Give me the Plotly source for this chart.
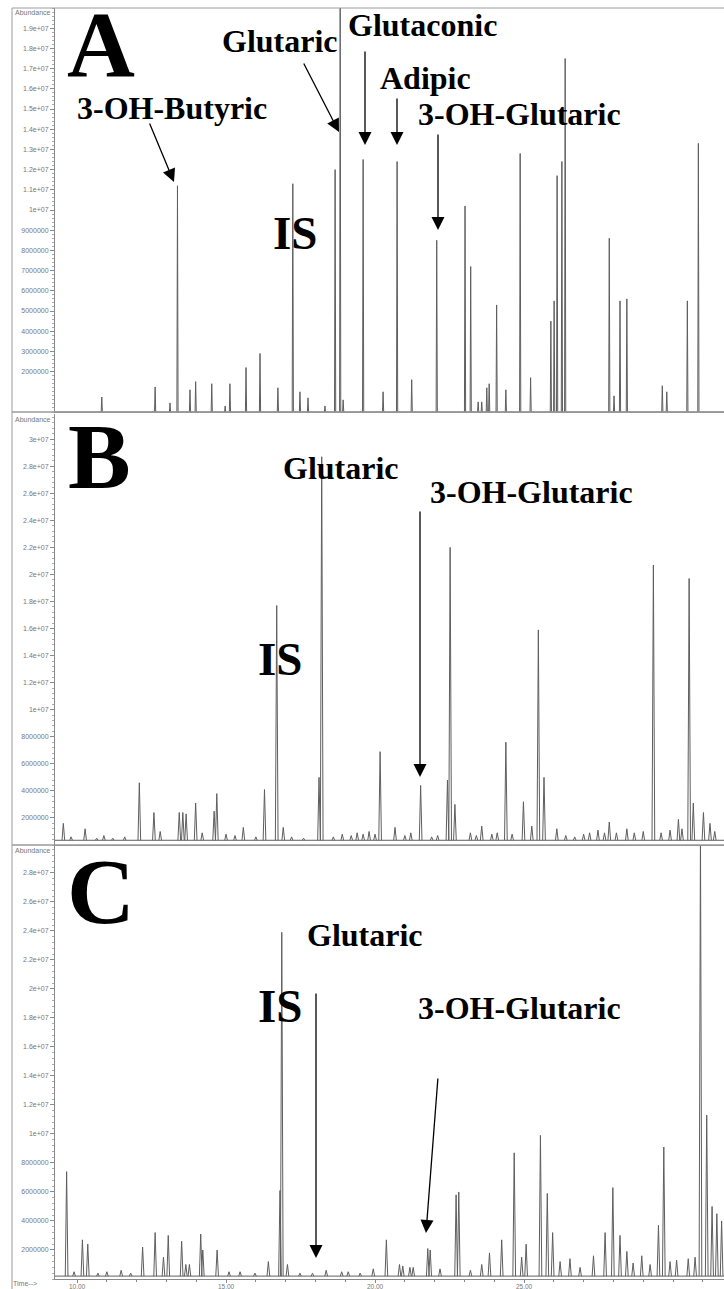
import plotly.graph_objects as go

# ---------------- data ----------------
time_tick_vals = [10, 15, 20, 25]
time_tick_text = ["10.00", "15.00", "20.00", "25.00"]

a_tick_vals = [2e6, 3e6, 4e6, 5e6, 6e6, 7e6, 8e6, 9e6, 1e7, 1.1e7, 1.2e7, 1.3e7,
               1.4e7, 1.5e7, 1.6e7, 1.7e7, 1.8e7, 1.9e7]
a_tick_text = ["2000000", "3000000", "4000000", "5000000", "6000000", "7000000",
               "8000000", "9000000", "1e+07", "1.1e+07", "1.2e+07", "1.3e+07",
               "1.4e+07", "1.5e+07", "1.6e+07", "1.7e+07", "1.8e+07", "1.9e+07"]
b_tick_vals = [2e6, 4e6, 6e6, 8e6, 1e7, 1.2e7, 1.4e7, 1.6e7, 1.8e7, 2e7, 2.2e7,
               2.4e7, 2.6e7, 2.8e7, 3e7]
b_tick_text = ["2000000", "4000000", "6000000", "8000000", "1e+07", "1.2e+07",
               "1.4e+07", "1.6e+07", "1.8e+07", "2e+07", "2.2e+07", "2.4e+07",
               "2.6e+07", "2.8e+07", "3e+07"]
c_tick_vals = [2e6, 4e6, 6e6, 8e6, 1e7, 1.2e7, 1.4e7, 1.6e7, 1.8e7, 2e7, 2.2e7,
               2.4e7, 2.6e7, 2.8e7]
c_tick_text = ["2000000", "4000000", "6000000", "8000000", "1e+07", "1.2e+07",
               "1.4e+07", "1.6e+07", "1.8e+07", "2e+07", "2.2e+07", "2.4e+07",
               "2.6e+07", "2.8e+07"]

# Panel A peaks: retention time (min) and abundance
a_rt = [10.83, 12.62, 13.12, 13.37, 13.79, 13.98, 14.52, 14.97, 15.13, 15.67,
        16.14, 16.74, 17.24, 17.48, 17.75, 18.32, 18.66, 18.83, 18.93, 19.60,
        20.27, 20.74, 21.23, 22.07, 23.02, 23.21, 23.46, 23.58, 23.75, 23.83,
        24.08, 24.39, 24.87, 25.22, 25.90, 26.01, 26.11, 26.27, 26.38, 27.86,
        28.02, 28.22, 28.45, 29.64, 29.79, 30.48, 30.85]
a_ab = [0.74e6, 1.24e6, 0.45e6, 1.12e7, 1.1e6, 1.5e6, 1.4e6, 0.3e6, 1.4e6, 2.2e6,
        2.9e6, 1.2e6, 1.13e7, 1.0e6, 0.7e6, 0.3e6, 1.2e7, 2.05e7, 0.6e6, 1.25e7,
        1.0e6, 1.24e7, 1.6e6, 8.5e6, 1.02e7, 7.2e6, 0.5e6, 0.5e6, 1.2e6, 1.4e6,
        5.3e6, 1.1e6, 1.28e7, 1.7e6, 4.5e6, 5.5e6, 1.17e7, 1.24e7, 1.75e7, 8.6e6,
        0.8e6, 5.5e6, 5.6e6, 1.3e6, 1.0e6, 5.5e6, 1.33e7]

# Panel B peaks
b_rt = [9.54, 9.8, 10.27, 10.66, 10.9, 11.2, 11.6, 12.09, 12.58, 12.79,
        13.43, 13.55, 13.66, 13.98, 14.2, 14.60, 14.69, 15.0, 15.3, 15.58,
        16.0, 16.29, 16.70, 16.92, 17.2, 17.6, 18.12, 18.21, 18.6, 18.9,
        19.2, 19.4, 19.6, 19.8, 20.0, 20.17, 20.67, 21.0, 21.2, 21.53,
        21.90, 22.1, 22.43, 22.52, 22.68, 23.2, 23.4, 23.58, 23.92, 24.1,
        24.39, 24.6, 24.98, 25.26, 25.48, 25.67, 26.10, 26.4, 26.7, 27.0,
        27.2, 27.48, 27.7, 27.86, 28.1, 28.45, 28.7, 29.0, 29.34, 29.6,
        29.9, 30.18, 30.3, 30.54, 30.68, 31.02, 31.24, 31.4]
b_ab = [1.6e6, 0.6e6, 1.2e6, 0.5e6, 0.7e6, 0.5e6, 0.6e6, 4.6e6, 2.4e6, 1.0e6,
        2.4e6, 2.4e6, 2.3e6, 3.1e6, 0.9e6, 2.5e6, 3.8e6, 0.8e6, 0.7e6, 1.3e6,
        0.6e6, 4.1e6, 1.77e7, 1.3e6, 0.6e6, 0.5e6, 5.0e6, 2.87e7, 0.6e6, 0.8e6,
        0.7e6, 0.9e6, 0.8e6, 1.0e6, 0.8e6, 6.9e6, 1.3e6, 0.7e6, 0.9e6, 4.4e6,
        0.6e6, 0.7e6, 4.8e6, 2.2e7, 3.0e6, 0.9e6, 0.7e6, 1.4e6, 0.8e6, 0.9e6,
        7.6e6, 0.8e6, 3.2e6, 1.4e6, 1.59e7, 5.0e6, 1.2e6, 0.7e6, 0.6e6, 0.8e6,
        0.9e6, 1.1e6, 0.9e6, 1.7e6, 0.9e6, 1.2e6, 0.9e6, 1.0e6, 2.07e7, 0.9e6,
        1.1e6, 1.9e6, 1.2e6, 1.97e7, 3.1e6, 2.4e6, 1.6e6, 1.0e6]

# Panel C peaks
c_rt = [9.65, 9.9, 10.18, 10.36, 10.70, 11.0, 11.48, 11.8, 12.20, 12.62,
        12.90, 13.06, 13.51, 13.65, 13.77, 14.15, 14.22, 14.70, 15.1, 15.47,
        15.97, 16.42, 16.81, 16.87, 17.06, 17.48, 17.9, 18.36, 18.88, 19.10,
        19.50, 19.94, 20.38, 20.82, 20.93, 21.17, 21.28, 21.77, 21.85, 22.18,
        22.72, 22.81, 23.2, 23.58, 23.84, 24.25, 24.67, 24.92, 25.07, 25.55,
        25.78, 25.96, 26.21, 26.54, 26.88, 27.33, 27.72, 27.98, 28.22, 28.45,
        28.66, 28.95, 29.23, 29.51, 29.69, 29.90, 30.12, 30.51, 30.74, 30.92,
        31.13, 31.31, 31.47, 31.63]
c_ab = [7.4e6, 0.5e6, 2.7e6, 2.4e6, 0.4e6, 0.5e6, 0.6e6, 0.4e6, 2.2e6, 3.2e6,
        1.5e6, 3.0e6, 2.6e6, 1.0e6, 1.0e6, 3.1e6, 2.0e6, 2.0e6, 0.5e6, 0.5e6,
        0.4e6, 1.2e6, 6.1e6, 2.39e7, 1.0e6, 0.4e6, 0.4e6, 0.6e6, 0.5e6, 0.5e6,
        0.4e6, 0.7e6, 2.7e6, 1.0e6, 0.9e6, 0.8e6, 0.8e6, 2.1e6, 2.0e6, 0.7e6,
        5.8e6, 6.0e6, 0.6e6, 1.0e6, 1.8e6, 2.7e6, 8.7e6, 1.5e6, 2.4e6, 9.9e6,
        5.9e6, 3.2e6, 1.2e6, 1.4e6, 0.8e6, 1.6e6, 3.2e6, 6.3e6, 3.0e6, 1.9e6,
        1.1e6, 1.6e6, 1.0e6, 3.7e6, 9.1e6, 1.2e6, 1.3e6, 1.4e6, 1.5e6, 3.1e7,
        1.13e7, 5.0e6, 4.5e6, 4.0e6]

# labels
panel_letters = ["A", "B", "C"]
a_labels = ["3-OH-Butyric", "Glutaric", "Glutaconic", "Adipic", "3-OH-Glutaric", "IS"]
b_labels = ["Glutaric", "3-OH-Glutaric", "IS"]
c_labels = ["Glutaric", "IS", "3-OH-Glutaric"]

assert len(a_rt) == len(a_ab) and len(b_rt) == len(b_ab) and len(c_rt) == len(c_ab)

# ---------------- layout helpers ----------------
W, H = 724, 1289


def px(x):
    return x / W


def py(y):
    return 1 - y / H


X_RANGE = [9.26, 31.71]
LINE = "#5e5e5e"
GREY = "#8a8a8a"
SERIF = "Liberation Serif"
SANS = "Liberation Sans"

panels = [
    # rt, ab, base, half width, top px, bottom px, ymax, ticks, ticktext, minor
    (a_rt, a_ab, 0.0, 0.02, 8, 412, 2.0e7, a_tick_vals, a_tick_text, 2e5),
    (b_rt, b_ab, 0.35e6, 0.045, 414, 845, 3.186e7, b_tick_vals, b_tick_text, 4e5),
    (c_rt, c_ab, 0.2e6, 0.045, 846, 1279, 2.985e7, c_tick_vals, c_tick_text, 4e5),
]

fig = go.Figure()
layout = dict(
    width=W, height=H, margin=dict(l=0, r=0, t=0, b=0, autoexpand=False),
    paper_bgcolor="white", plot_bgcolor="white", showlegend=False,
)

for i, (rt, ab, base, hw, top, bot, ymax, tv, tt, minor_dt) in enumerate(panels):
    n = "" if i == 0 else str(i + 1)
    xs, ys = [X_RANGE[0], X_RANGE[1], None], [base, base, None]
    for t, h in zip(rt, ab):
        xs += [t - hw, t, t + hw, None]
        ys += [base, h, base, None]
    fig.add_trace(go.Scatter(x=xs, y=ys, mode="lines", connectgaps=False,
                             line=dict(color=LINE, width=1),
                             xaxis="x" + n, yaxis="y" + n, hoverinfo="skip"))
    xa = dict(domain=[px(55), 1], range=X_RANGE, anchor="y" + n, automargin=False,
              showgrid=False, zeroline=False, showline=True,
              linecolor=GREY, linewidth=1)
    if i == 2:
        xa.update(tickmode="array", tickvals=time_tick_vals, ticktext=time_tick_text,
                  ticks="outside", ticklen=3, tickcolor=GREY,
                  ticklabelstandoff=-2,
                  tickfont=dict(family=SANS, size=6.5, color="#777"),
                  minor=dict(tickmode="linear", tick0=10, dtick=1, ticks="outside",
                             ticklen=2, tickcolor=GREY))
    else:
        xa.update(showticklabels=False, ticks="")
    ya = dict(domain=[py(bot), py(top)], range=[0, ymax], anchor="x" + n,
              automargin=False,
              showgrid=False, zeroline=False, showline=True,
              linecolor=GREY, linewidth=1,
              tickmode="array", tickvals=tv, ticktext=tt,
              ticks="outside", ticklen=4, tickcolor=GREY,
              tickfont=dict(family=SANS, size=7, color="#777"),
              minor=dict(tickmode="linear", tick0=0, dtick=minor_dt,
                         ticks="outside", ticklen=2, tickcolor="#aaa"))
    layout["xaxis" + n] = xa
    layout["yaxis" + n] = ya

fig.update_layout(**layout)

# frames around each panel (including the label column)
frames = [(8, 412), (412, 845), (845, 1295)]
for (t, b) in frames:
    fig.add_shape(type="rect", xref="paper", yref="paper",
                  x0=px(12), x1=px(730), y0=py(b), y1=py(t),
                  line=dict(color="#9a9a9a", width=1))

annots = []


def text(s, x, y, size, bold=True, family=SERIF, color="black"):
    annots.append(dict(text=s, x=px(x), y=py(y), xref="paper", yref="paper",
                       xanchor="center", yanchor="middle", showarrow=False,
                       font=dict(family=family, size=size, color=color,
                                 weight="bold" if bold else "normal")))


def arrow(xt, yt, xs, ys):
    annots.append(dict(text="", x=px(xt), y=py(yt), xref="paper", yref="paper",
                       ax=xs - xt, ay=ys - yt, axref="pixel", ayref="pixel",
                       showarrow=True, arrowhead=2, arrowsize=2.0,
                       arrowwidth=1.3, arrowcolor="black", standoff=0))


# small axis captions
for yy in (13, 419, 850):
    text("Abundance", 33, yy, 7, bold=False, family=SANS, color="#777")
text("Time-->", 25, 1283, 7, bold=False, family=SANS, color="#777")

# panel letters
text(panel_letters[0], 101, 44, 94)
text(panel_letters[1], 99, 456, 94)
text(panel_letters[2], 101, 891, 94)

# panel A labels
text(a_labels[0], 172, 108, 32)
text(a_labels[1], 280, 41, 32)
text(a_labels[2], 422, 25, 32)
text(a_labels[3], 425, 78, 32)
text(a_labels[4], 519, 114, 32)
text(a_labels[5], 295, 233, 47)
# panel B labels
text(b_labels[0], 341, 468, 32)
text(b_labels[1], 531, 492, 32)
text(b_labels[2], 280, 659, 47)
# panel C labels
text(c_labels[0], 365, 935, 32)
text(c_labels[1], 280, 1006, 47)
text(c_labels[2], 519, 1008, 32)

# arrows (tip x, tip y, tail x, tail y) in pixels
arrow(174, 182, 149, 122)
arrow(339, 132, 303, 62)
arrow(365, 145, 365, 50)
arrow(397, 145, 397, 97)
arrow(438, 230, 438, 133)
arrow(420, 777, 420, 510)
arrow(316, 1258, 316, 992)
arrow(426, 1233, 438, 1077)

fig.update_layout(annotations=annots)

fig.write_html("out.html", config={"displayModeBar": False},
               post_script="document.body.style.margin='0px';"
                           "document.body.style.padding='0px';"
                           "document.body.style.overflow='hidden';")
